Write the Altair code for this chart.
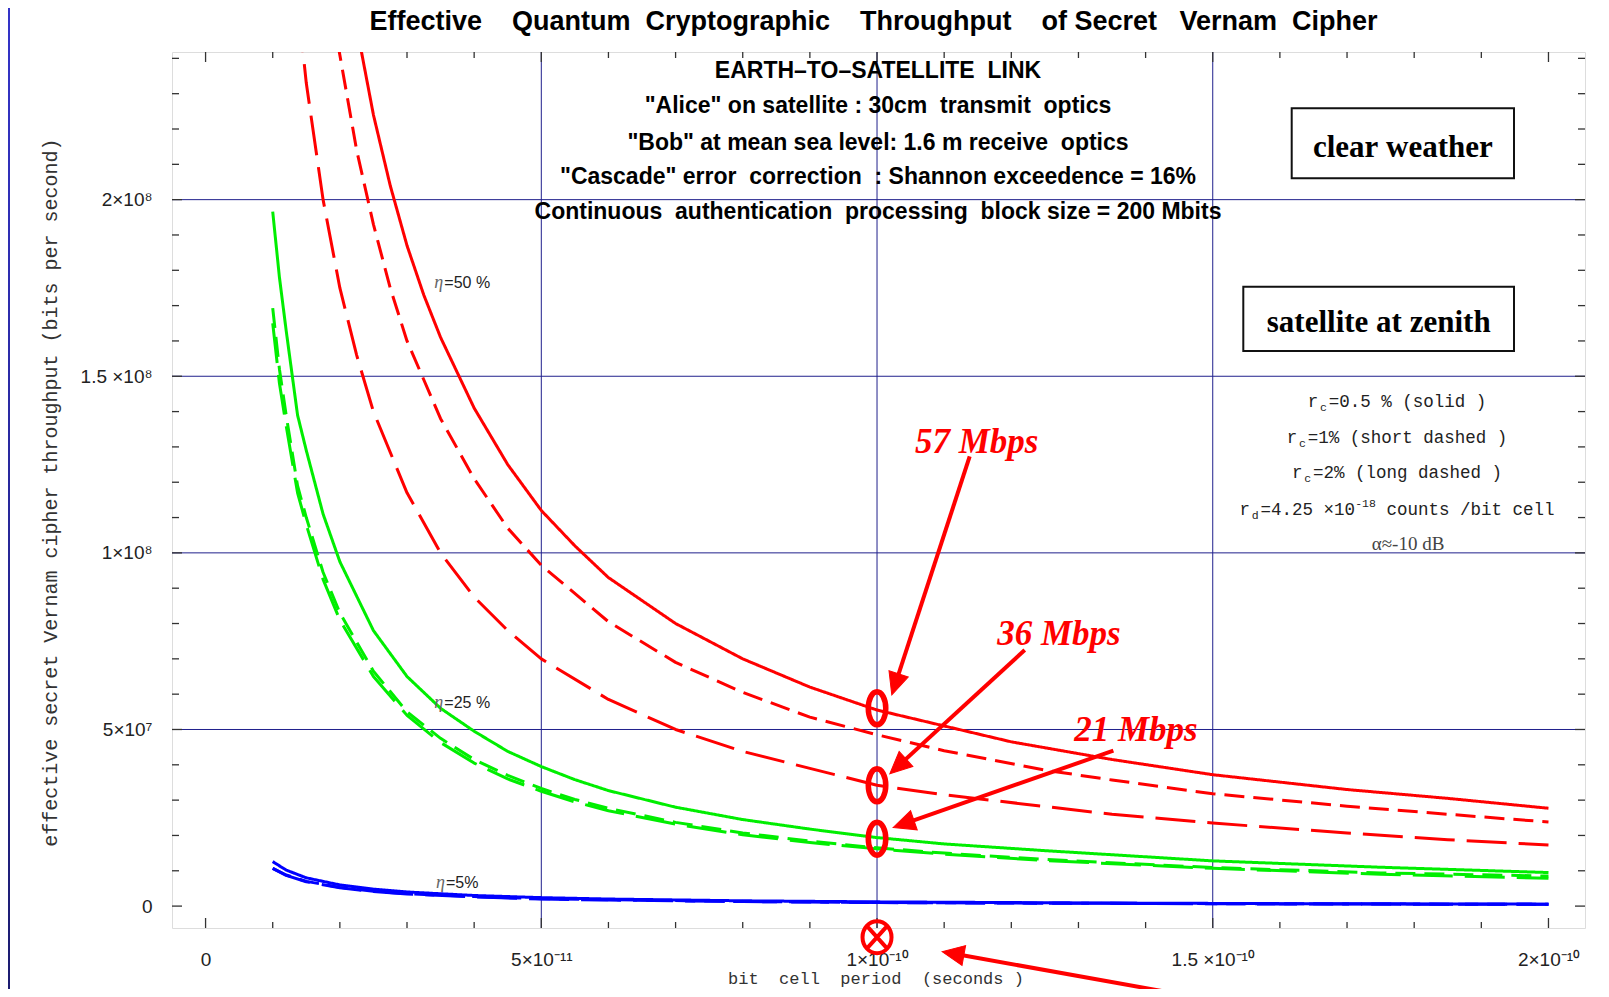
import math
import altair as alt
import pandas as pd

# ---------------- values ----------------
# abscissa in picoseconds (1e-12 s), ordinate in units of 1e7 bit/s
red_solid_ps = [21.5, 23.2, 25, 27.5, 30, 32.5, 35, 40, 45, 50, 55, 60, 70, 80, 90, 100, 110, 120, 135, 150, 170, 185, 200]
red_solid_val = [26.0, 24.2, 22.4, 20.4, 18.7, 17.3, 16.1, 14.1, 12.5, 11.2, 10.2, 9.3, 8.0, 7.0, 6.2, 5.55, 5.1, 4.65, 4.15, 3.72, 3.3, 3.05, 2.77]

red_short_ps = [19.0, 19.9, 22.5, 25, 27.5, 30, 35, 40, 45, 50, 60, 70, 80, 90, 100, 110, 125, 135, 150, 170, 185, 200]
red_short_val = [25.3, 24.2, 21.4, 19.3, 17.5, 16.0, 13.8, 12.1, 10.7, 9.65, 8.05, 6.9, 6.05, 5.35, 4.85, 4.4, 3.85, 3.57, 3.18, 2.83, 2.6, 2.38]

red_long_ps = [13.8, 14.5, 15, 17.5, 20, 22.5, 25, 30, 35, 40, 45, 50, 60, 70, 80, 90, 100, 110, 125, 135, 150, 170, 185, 200]
red_long_val = [25.3, 24.2, 23.3, 20.0, 17.5, 15.6, 14.0, 11.7, 10.0, 8.75, 7.8, 7.0, 5.85, 5.0, 4.38, 3.9, 3.42, 3.15, 2.82, 2.6, 2.35, 2.07, 1.88, 1.73]

green_ps = [10, 11, 12, 13.7, 15, 17.5, 20, 25, 30, 35, 40, 45, 50, 55, 60, 70, 80, 90, 100, 110, 125, 150, 175, 200]
green_solid_val = [19.66, 17.8, 16.3, 13.9, 12.9, 11.1, 9.75, 7.8, 6.5, 5.6, 4.95, 4.38, 3.95, 3.58, 3.27, 2.8, 2.45, 2.18, 1.94, 1.76, 1.57, 1.28, 1.1, 0.95]
green_short_val = [16.93, 15.2, 13.9, 11.9, 11.0, 9.45, 8.3, 6.65, 5.5, 4.75, 4.15, 3.7, 3.33, 3.02, 2.77, 2.37, 2.07, 1.84, 1.65, 1.5, 1.32, 1.09, 0.94, 0.85]
green_long_val = [16.5, 14.8, 13.6, 11.7, 10.8, 9.25, 8.1, 6.5, 5.4, 4.63, 4.05, 3.6, 3.25, 2.95, 2.7, 2.32, 2.02, 1.8, 1.62, 1.47, 1.29, 1.07, 0.9, 0.79]

blue_ps = [10, 12, 15, 20, 25, 30, 40, 50, 60, 80, 100, 130, 160, 200]
blue_solid_val = [1.26, 1.02, 0.8, 0.6, 0.48, 0.4, 0.3, 0.24, 0.2, 0.15, 0.12, 0.09, 0.07, 0.055]
blue_short_val = [1.07, 0.88, 0.7, 0.53, 0.42, 0.35, 0.27, 0.21, 0.18, 0.13, 0.1, 0.08, 0.065, 0.05]
blue_long_val = [1.07, 0.87, 0.69, 0.52, 0.41, 0.34, 0.26, 0.2, 0.17, 0.13, 0.1, 0.08, 0.06, 0.05]

x_tick_values = [0, 5e-11, 1e-10, 1.5e-10, 2e-10]
x_tick_labels = ["0", "5×10⁻¹¹", "1×10⁻¹⁰", "1.5 ×10⁻¹⁰", "2×10⁻¹⁰"]
y_tick_values = [0, 5e7, 1e8, 1.5e8, 2e8]
y_tick_labels = ["0", "5×10⁷", "1×10⁸", "1.5 ×10⁸", "2×10⁸"]
x_grid_values = [5e-11, 1e-10, 1.5e-10]
y_grid_values = [5e7, 1e8, 1.5e8, 2e8]

# highlighted operating points at 1e-10 s
marked_period = [1e-10, 1e-10, 1e-10]
marked_rate = [5.6e7, 3.42e7, 1.91e7]
marked_text = ["57 Mbps", "36 Mbps", "21 Mbps"]
# arrows (tail -> tip) in data units
arrow_tail_ps = [113.8, 122.0, 135.2, 147.3]
arrow_tail_val = [12.73, 7.25, 4.40, -2.57]
arrow_tip_ps = [102.2, 101.9, 102.4, 109.7]
arrow_tip_val = [5.98, 3.745, 2.225, -1.29]
cross_period = [1e-10]
cross_rate = [-8.8e6]

# ---------------- layout / style ----------------
PW, PH = 1413, 876
XMIN, XMAX = -5.0e-12, 205.44e-12
YMIN, YMAX = -6.2e6, 2.418e8
PXX = PW / (XMAX - XMIN)
PXY = PH / (YMAX - YMIN)

NARROW = "Liberation Sans Narrow, Arial Narrow, Liberation Sans, sans-serif"
SANS = "Liberation Sans, Arial, sans-serif"
SERIF = "Liberation Serif, Times New Roman, serif"
MONO = "Liberation Mono, Courier New, monospace"
FRAME = "#333333"
GRID = "#20208c"
RED = "#ff0000"


def nb(s):
    return s.replace(" ", "\u00a0")


xscale = alt.Scale(domain=[XMIN, XMAX], nice=False, zero=False)
yscale = alt.Scale(domain=[YMIN, YMAX], nice=False, zero=False)
xlab_js = "[" + ",".join("'" + t + "'" for t in x_tick_labels) + "]"
ylab_js = "[" + ",".join("'" + t + "'" for t in y_tick_labels) + "]"
xaxis = alt.Axis(values=x_tick_values, labelExpr=xlab_js + "[round(datum.value/5e-11)]", grid=False,
                 ticks=False, tickSize=0, domain=False, title=None, labelFont=NARROW, labelFontSize=19,
                 labelColor="#222", labelPadding=31, labelBaseline="middle", labelFlush=False,
                 labelOverlap=False)
yaxis = alt.Axis(values=y_tick_values, labelExpr=ylab_js + "[round(datum.value/5e7)]", grid=False,
                 ticks=False, tickSize=0, domain=False, title=None, labelFont=NARROW, labelFontSize=19,
                 labelColor="#222", labelPadding=20, labelFlush=False, labelOverlap=False)


def X(f):
    return alt.X(f, type="quantitative", scale=xscale, axis=xaxis)


def Y(f):
    return alt.Y(f, type="quantitative", scale=yscale, axis=yaxis)


ONE = pd.DataFrame({"k": [0]})


def text(t, x, y, size, font, color="#000", weight="normal", style="normal", align="center",
         baseline="alphabetic", angle=None):
    kw = dict(text=nb(t), fontSize=size, font=font, color=color, fontWeight=weight, fontStyle=style,
              align=align, baseline=baseline)
    if angle is not None:
        kw["angle"] = angle
    return alt.Chart(ONE).mark_text(**kw).encode(x=alt.value(x), y=alt.value(y))


# ---------------- curves ----------------
series = [
    ("r50_solid", red_solid_ps, red_solid_val, RED, [1, 0], 3.0),
    ("r50_short", red_short_ps, red_short_val, RED, [20, 9], 3.0),
    ("r50_long", red_long_ps, red_long_val, RED, [40, 12], 3.0),
    ("g25_solid", green_ps, green_solid_val, "#00ee00", [1, 0], 3.5),
    ("g25_short", green_ps, green_short_val, "#00ee00", [20, 9], 3.5),
    ("g25_long", green_ps, green_long_val, "#00ee00", [40, 12], 3.5),
    ("b05_solid", blue_ps, blue_solid_val, "#0000ff", [1, 0], 4.5),
    ("b05_short", blue_ps, blue_short_val, "#0000ff", [20, 9], 4.5),
    ("b05_long", blue_ps, blue_long_val, "#0000ff", [40, 12], 4.5),
]
rows = []
for name, xs, ys, *_ in series:
    for i, (a, b) in enumerate(zip(xs, ys)):
        rows.append({"series": name, "x": a * 1e-12, "y": b * 1e7, "i": i})
curve_df = pd.DataFrame(rows)
names = [s[0] for s in series]

curves = alt.Chart(curve_df).mark_line(clip=True, strokeCap="butt", strokeJoin="round").encode(
    x=X("x"), y=Y("y"),
    color=alt.Color("series:N", scale=alt.Scale(domain=names, range=[s[3] for s in series]), legend=None),
    strokeDash=alt.StrokeDash("series:N", scale=alt.Scale(domain=names, range=[s[4] for s in series]), legend=None),
    strokeWidth=alt.StrokeWidth("series:N", scale=alt.Scale(domain=names, range=[s[5] for s in series]), legend=None),
    order="i:Q",
)

# ---------------- grid & frame ticks ----------------
vgrid = alt.Chart(pd.DataFrame({"x": x_grid_values})).mark_rule(color=GRID, strokeWidth=1).encode(x=X("x"))
hgrid = alt.Chart(pd.DataFrame({"y": y_grid_values})).mark_rule(color=GRID, strokeWidth=1).encode(y=Y("y"))

x_minor = [k * 1e-11 for k in range(0, 21) if k % 5]
y_minor = [k * 1e7 for k in range(0, 25) if k % 5]
tick_layers = []
for vals, L in ((x_tick_values, 10), (x_minor, 6)):
    d = pd.DataFrame({"x": vals})
    tick_layers.append(alt.Chart(d).mark_rule(color=FRAME, strokeWidth=1.3).encode(
        x=X("x"), y=alt.value(PH), y2=alt.value(PH - L)))
    tick_layers.append(alt.Chart(d).mark_rule(color=FRAME, strokeWidth=1.3).encode(
        x=X("x"), y=alt.value(0), y2=alt.value(L)))
for vals, L in ((y_tick_values, 10), (y_minor, 7)):
    d = pd.DataFrame({"y": vals})
    tick_layers.append(alt.Chart(d).mark_rule(color=FRAME, strokeWidth=1.3).encode(
        y=Y("y"), x=alt.value(0), x2=alt.value(L)))
    tick_layers.append(alt.Chart(d).mark_rule(color=FRAME, strokeWidth=1.3).encode(
        y=Y("y"), x=alt.value(PW), x2=alt.value(PW - L)))

# ---------------- markers & arrows ----------------
ELLIPSE = "M0,-1 A0.53,1 0 1,1 0,1 A0.53,1 0 1,1 0,-1 Z"
rings = alt.Chart(pd.DataFrame({"x": marked_period, "y": marked_rate})).mark_point(
    shape=ELLIPSE, size=1089, filled=False, stroke=RED, strokeWidth=5.5, opacity=1).encode(x=X("x"), y=Y("y"))

CROSS = ("M0,-1 A0.906,1 0 1,1 0,1 A0.906,1 0 1,1 0,-1 Z "
         "M-0.64,-0.71 L0.64,0.71 M-0.64,0.71 L0.64,-0.71")
cross = alt.Chart(pd.DataFrame({"x": cross_period, "y": cross_rate})).mark_point(
    shape=CROSS, size=1024, filled=False, stroke=RED, strokeWidth=4, opacity=1).encode(x=X("x"), y=Y("y"))

HEAD_LEN = 22.0
arows = []
for tx, ty, hx, hy in zip(arrow_tail_ps, arrow_tail_val, arrow_tip_ps, arrow_tip_val):
    x0, y0, x1, y1 = tx * 1e-12, ty * 1e7, hx * 1e-12, hy * 1e7
    dxp = (x1 - x0) * PXX
    dyp = -(y1 - y0) * PXY
    L = math.hypot(dxp, dyp)
    ux, uy = dxp / L, dyp / L
    back = HEAD_LEN * 0.75
    ex = x1 - ux * back / PXX
    ey = y1 + uy * back / PXY
    ang = math.degrees(math.atan2(dxp, -dyp)) % 360
    arows.append({"x0": x0, "y0": y0, "x1": ex, "y1": ey, "hx": x1, "hy": y1, "ang": ang})
arrow_df = pd.DataFrame(arows)
shafts = alt.Chart(arrow_df).mark_rule(color=RED, strokeWidth=4).encode(
    x=X("x0"), y=Y("y0"), x2="x1:Q", y2="y1:Q")
HEAD = "M0,0 L-0.46,1 L0.46,1 Z"
heads = alt.Chart(arrow_df).mark_point(shape=HEAD, size=(2 * HEAD_LEN) ** 2, filled=True, fill=RED,
                                       stroke=RED, strokeWidth=1, opacity=1).encode(
    x=X("hx"), y=Y("hy"), angle=alt.Angle("ang:Q", scale=None))

# ---------------- text ----------------
texts = []
texts.append(text("Effective    Quantum  Cryptographic    Throughput    of Secret   Vernam  Cipher",
                  701.5, -22, 27, NARROW, weight="bold"))
header = ["EARTH–TO–SATELLITE  LINK",
          "\"Alice\" on satellite : 30cm  transmit  optics",
          "\"Bob\" at mean sea level: 1.6 m receive  optics",
          "\"Cascade\" error  correction  : Shannon exceedence = 16%",
          "Continuous  authentication  processing  block size = 200 Mbits"]
for t, yb in zip(header, [26, 61, 97.5, 131.5, 166.5]):
    texts.append(text(t, 706, yb, 23, NARROW, weight="bold"))

boxes = []
for (x0, x1, y0, y1) in [(1119.7, 1342, 56.3, 126.3), (1071.3, 1342, 234.7, 299)]:
    boxes.append(alt.Chart(ONE).mark_rect(fill="white", stroke="#111", strokeWidth=2).encode(
        x=alt.value(x0), x2=alt.value(x1), y=alt.value(y0), y2=alt.value(y1)))
texts.append(text("clear weather", 1230.9, 104.7, 31, SERIF, weight="bold"))
texts.append(text("satellite at zenith", 1206.7, 279.7, 31, SERIF, weight="bold"))

# legend-like notes (monospace with sub/superscripts)
MS = 17.5
CW = 0.6 * MS
CX = 1225
notes = [("r =0.5 % (solid )", 355.3, [(1, "c", 4)]),
         ("r =1% (short dashed )", 391.3, [(1, "c", 4)]),
         ("r =2% (long dashed )", 426.3, [(1, "c", 4)]),
         ("r =4.25 ×10   counts /bit cell", 463, [(1, "d", 4), (11.5, "-18", -8)])]
for s, yb, subs in notes:
    texts.append(text(s, CX, yb, MS, MONO, color="#222"))
    left = CX - len(s) * CW / 2
    for idx, st, dy in subs:
        texts.append(text(st, left + (idx + 0.5) * CW, yb + dy, 11.5, MONO, color="#222"))
texts.append(text("α≈-10 dB", 1236, 498, 19, SERIF, color="#444"))

# eta labels
for yb, s, xr in [(236.3, "=50 %", 271.3), (656.3, "=25 %", 271.3), (836.3, "=5%", 273)]:
    texts.append(text("η", xr, yb, 18, SERIF, color="#666", style="italic", align="right"))
    texts.append(text(s, xr + 1, yb, 16, SANS, color="#222", align="left"))

# throughput call-outs
for t, cx, yb in zip(marked_text, [804.7, 887, 964], [400.7, 593, 688.7]):
    texts.append(text(t, cx, yb, 35, SERIF, color=RED, weight="bold", style="italic"))

# axis titles
texts.append(text("effective secret Vernam cipher throughput (bits per second)", -115, 440.6, 20, MONO,
                  color="#333", angle=270))
texts.append(text("bit  cell  period  (seconds )", 704, 932, 17, MONO, color="#333"))

# left blue border strip (only the part inside the canvas)
strip = alt.Chart(ONE).mark_rect(fill=alt.LinearGradient(
    gradient="linear", stops=[alt.GradientStop(color="#3434c8", offset=0),
                              alt.GradientStop(color="#1c1c70", offset=1)],
    x1=0, x2=0, y1=0, y2=1)).encode(x=alt.value(-164), x2=alt.value(-162), y=alt.value(-44), y2=alt.value(937))

chart = alt.layer(
    vgrid, hgrid, *tick_layers, curves, rings, shafts, heads, cross, *boxes, *texts, strip
).properties(
    width=PW, height=PH,
    padding={"left": 164, "top": 44, "right": 16, "bottom": 61},
    autosize=alt.AutoSizeParams(type="none"),
).configure_view(stroke=FRAME, strokeWidth=1.5).configure(background="white")

chart.save("out.html", embed_options={"renderer": "svg", "actions": False})
